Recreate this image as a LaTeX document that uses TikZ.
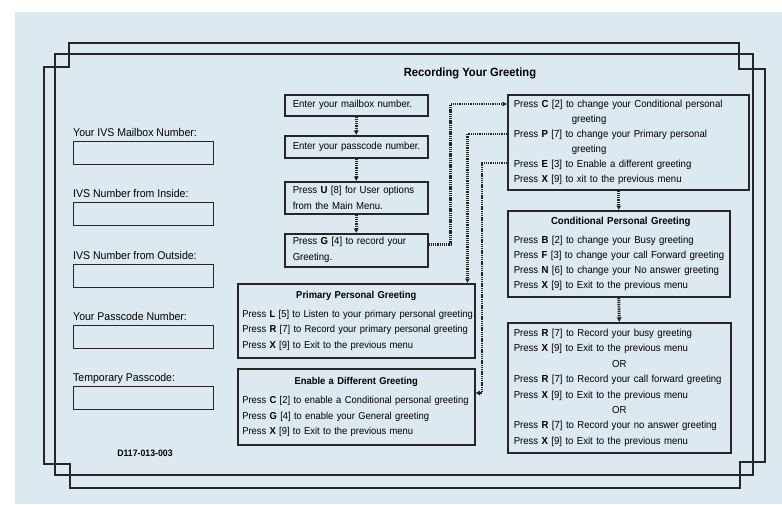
\documentclass[tikz,border=0pt]{standalone}
\usepackage{fontspec}
\setmainfont[FakeStretch=0.94]{Liberation Sans}
\usetikzlibrary{arrows.meta}
\definecolor{paper}{RGB}{221,233,241}
\definecolor{ink}{RGB}{38,38,38}
\newcommand\rowl[1]{\mbox{#1}}
\begin{document}
\begin{tikzpicture}[x=1pt,y=-1pt,
  frame/.style={draw=ink, line width=1.2pt},
  box/.style={draw=ink, line width=1.5pt, inner xsep=4pt, inner ysep=0pt, anchor=north west,
    align=left, font=\fontsize{10.2}{15}\selectfont},
  inbox/.style={draw=ink, line width=1.2pt, minimum width=140pt, minimum height=23pt,
    anchor=north west, inner sep=0pt},
  lab/.style={anchor=base west, inner sep=0pt, font=\fontsize{11.2}{12}\selectfont},
  conn/.style={draw=ink, line width=2.9pt, dash pattern=on 1.3pt off 0.9pt,
    -{Latex[length=4.5pt,width=5.5pt]}}]
\useasboundingbox (0,0) rectangle (782,504);
\fill[white] (0,0) rectangle (782,504);
\fill[paper] (15,12) rectangle (782,504);
% frames
\draw[frame] (69,43) -- (739,43) -- (739,69) -- (765,69) -- (765,462) -- (740,462)
  -- (740,488) -- (70,488) -- (70,464) -- (44,464) -- (44,67) -- (69,67) -- cycle;
\draw[frame] (55,54) rectangle (753,475);
% title
\node[font=\bfseries\fontsize{11.9}{13}\selectfont] (title) at (470,73) {Recording Your Greeting};
% left fields
\node[lab] (l1) at (73,136) {Your IVS Mailbox Number:};
\node[inbox] (f1) at (73,141) {};
\node[lab] (l2) at (73,197) {IVS Number from Inside:};
\node[inbox] (f2) at (73,202) {};
\node[lab] (l3) at (73,259) {IVS Number from Outside:};
\node[inbox] (f3) at (73,264) {};
\node[lab] (l4) at (73,320) {Your Passcode Number:};
\node[inbox] (f4) at (73,325) {};
\node[lab] (l5) at (73,381) {Temporary Passcode:};
\node[inbox] (f5) at (73,386) {};
\node[font=\bfseries\fontsize{9.3}{10}\selectfont] (code) at (145,453) {D117-013-003};
% flow boxes
\node[box, inner xsep=8pt, text width=127pt, minimum height=21pt] (s1) at (284,94) {\rowl{Enter your mailbox number.}};
\node[box, inner xsep=8pt, text width=127pt, minimum height=22pt] (s2) at (284,135) {\rowl{Enter your passcode number.}};
\node[box, inner xsep=8pt, text width=127pt, minimum height=32pt, font=\fontsize{10.2}{16}\selectfont] (s3) at (284,181)
  {\rowl{Press \textbf{U} [8] for User options}\\\rowl{from the Main Menu.}};
\node[box, inner xsep=8pt, text width=127pt, minimum height=33pt, font=\fontsize{10.2}{16}\selectfont] (s4) at (284,233)
  {\rowl{Press \textbf{G} [4] to record your}\\\rowl{Greeting.}};
% menu
\node[box, inner xsep=6pt, text width=229pt, minimum height=95pt] (menu) at (507,94)
  {\rowl{Press \textbf{C} [2] to change your Conditional personal}\\
   \hspace*{58pt}greeting\\
   \rowl{Press \textbf{P} [7] to change your Primary personal}\\
   \hspace*{58pt}greeting\\
   \rowl{Press \textbf{E} [3] to Enable a different greeting}\\
   \rowl{Press \textbf{X} [9] to xit to the previous menu}};
% conditional
\node[box, inner xsep=6pt, text width=210pt, minimum height=86pt] (cond) at (507,210)
  {\makebox[\linewidth]{\hspace*{4pt}\bfseries Conditional Personal Greeting}\\[4pt]
   \rowl{Press \textbf{B} [2] to change your Busy greeting}\\
   \rowl{Press \textbf{F} [3] to change your call Forward greeting}\\
   \rowl{Press \textbf{N} [6] to change your No answer greeting}\\
   \rowl{Press \textbf{X} [9] to Exit to the previous menu}};
% record
\node[box, inner xsep=6pt, text width=211pt, minimum height=130pt, font=\fontsize{10.2}{15.4}\selectfont] (rec) at (507,322)
  {\rowl{Press \textbf{R} [7] to Record your busy greeting}\\
   \rowl{Press \textbf{X} [9] to Exit to the previous menu}\\
   \makebox[\linewidth]{OR}\\
   \rowl{Press \textbf{R} [7] to Record your call forward greeting}\\
   \rowl{Press \textbf{X} [9] to Exit to the previous menu}\\
   \makebox[\linewidth]{OR}\\
   \rowl{Press \textbf{R} [7] to Record your no answer greeting}\\
   \rowl{Press \textbf{X} [9] to Exit to the previous menu}};
% primary
\node[box, inner xsep=4.5pt, text width=228pt, minimum height=74pt, font=\fontsize{10.0}{15.5}\selectfont] (prim) at (237,283)
  {\makebox[\linewidth]{\bfseries Primary Personal Greeting}\\[3pt]
   \rowl{Press \textbf{L} [5] to Listen to your primary personal greeting}\\
   \rowl{Press \textbf{R} [7] to Record your primary personal greeting}\\
   \rowl{Press \textbf{X} [9] to Exit to the previous menu}};
% enable
\node[box, inner xsep=4.5pt, text width=228pt, minimum height=76pt, font=\fontsize{10.0}{15.5}\selectfont] (enab) at (237,368)
  {\makebox[\linewidth]{\bfseries Enable a Different Greeting}\\[4pt]
   \rowl{Press \textbf{C} [2] to enable a Conditional personal greeting}\\
   \rowl{Press \textbf{G} [4] to enable your General greeting}\\
   \rowl{Press \textbf{X} [9] to Exit to the previous menu}};
% connectors
\draw[conn] (s1.south) -- (s2.north);
\draw[conn] (s2.south) -- (s3.north);
\draw[conn] (s3.south) -- (s4.north);
\draw[conn] ([yshift=5.5pt]s4.east) -- ++(22,0) |- ([yshift=-10pt]menu.north west);
\draw[conn] ([yshift=-40pt]menu.north west) -| ([xshift=-8pt]prim.north east);
\coordinate (c3) at (482,393);
\draw[conn] ([yshift=-69pt]menu.north west) -| (c3) -- (c3 -| enab.east);
\draw[conn] (menu.south -| cond.north) -- (cond.north);
\draw[conn] (cond.south) -- (rec.north);
\end{tikzpicture}
\end{document}
